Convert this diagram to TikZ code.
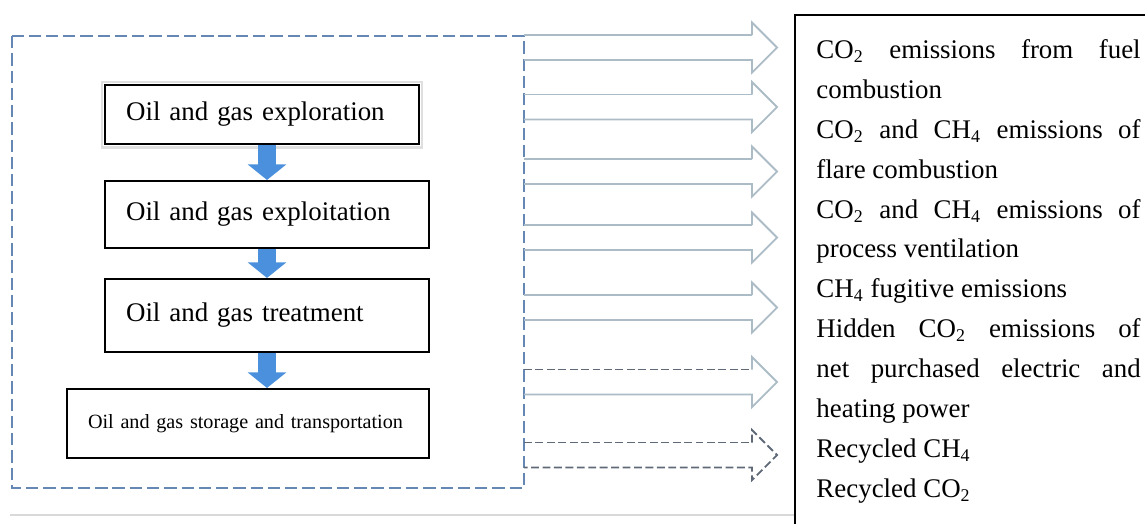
\documentclass[tikz,border=0pt]{standalone}
\usepackage{fontspec}
\setmainfont{Liberation Serif}
\usetikzlibrary{arrows.meta}

\definecolor{flowBlue}{RGB}{74,144,220}
\definecolor{chainBlue}{RGB}{100,135,180}
\definecolor{emGray}{RGB}{172,188,198}
\definecolor{emDark}{RGB}{95,105,120}

\newcommand{\COtwo}{CO\textsubscript{2}}
\newcommand{\CHfour}{CH\textsubscript{4}}

\begin{document}
\begin{tikzpicture}[x=0.446pt, y=-0.446pt, line join=miter]

% ---------------- styles ----------------
\tikzset{
  stageBox/.style   ={draw, line width=0.9pt, fill=white, inner xsep=9.4pt, inner ysep=0pt,
                      align=left, font=\fontsize{12}{14}\selectfont},
  stageFlow/.style  ={draw=flowBlue, line width=8pt, -{Triangle[width=17pt, length=7pt]}},
  chainBorder/.style={draw=chainBlue, line width=0.9pt, dash pattern=on 5.5pt off 2.2pt},
  emOutline/.style  ={draw=emGray, line width=0.8pt},
  emDashed/.style   ={draw=emDark, line width=0.8pt, dash pattern=on 3.5pt off 1.6pt}
}

% ---------------- parameters (px of the page) ----------------
\def\ArrL{524}   % shafts start on the dashed frame
\def\ArrB{752}   % head base
\def\ArrT{777}   % tip
\def\ArrS{12.5}  % half shaft width
\def\ArrH{25}    % half head width

% helper: open block arrow centred on y=#1, top shaft style #2, rest #3
\newcommand{\EmArrow}[3]{%
  \draw[#2] (\ArrL,#1-\ArrS) -- (\ArrB,#1-\ArrS);
  \draw[#3] (\ArrB,#1-\ArrS) -- (\ArrB,#1-\ArrH) -- (\ArrT,#1)
    -- (\ArrB,#1+\ArrH) -- (\ArrB,#1+\ArrS) -- (\ArrL,#1+\ArrS);
}

\clip (0,0) rectangle (1145,523);

% ---------------- process chain ----------------
\draw[chainBorder] (12,36) rectangle (\ArrL,488);

\node[stageBox, minimum width=140pt, text width=121.2pt, minimum height=26.3pt] (explore) at (262,114.5) {Oil and gas exploration};
\draw[gray!25, line width=0.9pt] ([shift={(-2.5,-2.5)}]explore.north west) rectangle ([shift={(2.5,2.5)}]explore.south east);
\node[stageBox, minimum width=144.5pt, text width=125.7pt, minimum height=29.9pt] (exploit) at (267,214.5) {Oil and gas exploitation};
\node[stageBox, minimum width=144.5pt, text width=125.7pt, minimum height=32.6pt] (treat) at (267,315.5) {Oil and gas treatment};
\node[stageBox, minimum width=161.5pt, text width=142.7pt, minimum height=30.8pt,
      font=\fontsize{9}{11}\selectfont] (store) at (248,423.5) {Oil and gas storage and transportation};

\draw[stageFlow] (explore.south -| exploit.north) -- (exploit.north);
\draw[stageFlow] (exploit.south) -- (treat.north);
\draw[stageFlow] (treat.south) -- (treat.south |- store.north);

% ---------------- emission outputs ----------------
\EmArrow{47.5}{emOutline}{emOutline}
\EmArrow{107}{emOutline}{emOutline}
\EmArrow{171.5}{emOutline}{emOutline}
\EmArrow{237.5}{emOutline}{emOutline}
\EmArrow{307.5}{emOutline}{emOutline}
\EmArrow{382}{emDashed}{emOutline}
\EmArrow{455}{emDashed}{emDashed}

\draw[gray!30, line width=1pt] (10,515) -- (795,515);

% ---------------- source list ----------------
\draw[line width=0.9pt] (795,540) -- (795,15) -- (1160,15);
\node[anchor=north west, inner sep=0pt, text width=144.6pt, align=justify,
      font=\fontsize{12}{17.8}\selectfont]
  (sources) at (816,39) {%
  \tolerance=10000 \hbadness=10000 \hyphenpenalty=10000
  \COtwo{} emissions from fuel\linebreak combustion\par
  \COtwo{} and \CHfour{} emissions of\linebreak flare combustion\par
  \COtwo{} and \CHfour{} emissions of\linebreak process ventilation\par
  \CHfour{} fugitive emissions\par
  Hidden \COtwo{} emissions of\linebreak net purchased electric and\linebreak heating power\par
  Recycled \CHfour\par
  Recycled \COtwo};

\end{tikzpicture}
\end{document}
